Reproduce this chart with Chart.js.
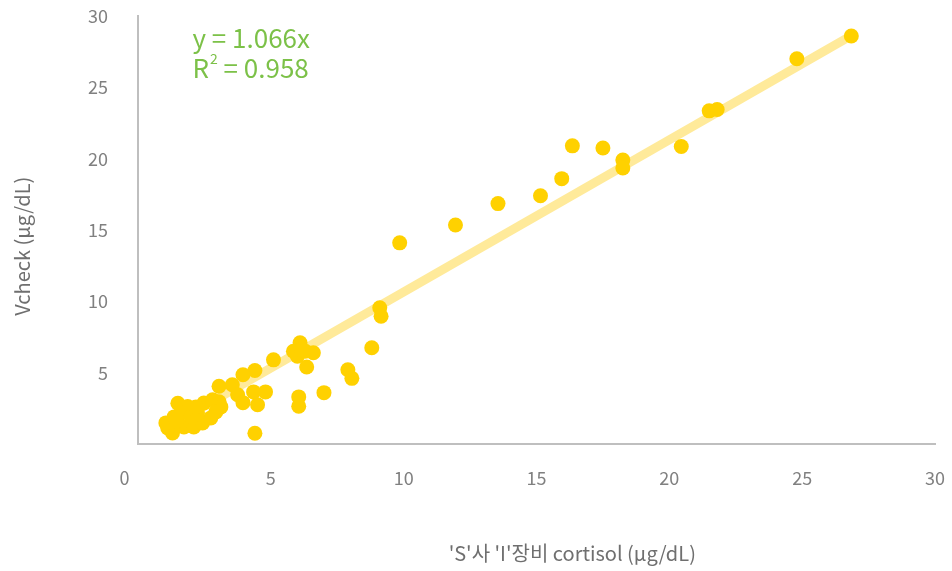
<!DOCTYPE html>
<html>
<head>
<meta charset="utf-8">
<script src="https://cdn.jsdelivr.net/npm/chart.js@4/dist/chart.umd.min.js"></script>
<style>
  html, body { margin: 0; padding: 0; background: #ffffff; }
  #wrap { width: 952px; height: 571px; }
</style>
</head>
<body>
<div id="wrap"><canvas id="c" width="952" height="571"></canvas></div>
<script>
// Paired cortisol readings: reference analyser (x) vs Vcheck (y), µg/dL
const refCortisol = [
  26.85, 24.8, 21.5, 21.8, 20.45, 18.25, 18.25, 17.5, 16.35, 15.95,
  15.15, 13.55, 11.95, 9.85, 9.1, 9.15, 8.8, 7.9, 8.05, 7.0,
  6.05, 6.05, 6.1, 5.85, 6.0, 6.3, 6.6, 6.35, 6.15, 5.1,
  4.4, 3.95, 3.55, 3.05, 3.75, 4.35, 4.8, 3.95, 4.5, 4.4,
  1.5, 1.87, 2.48, 2.81, 3.05, 3.12, 2.93, 1.3, 1.12, 1.05,
  1.73, 2.1, 2.43, 2.74, 1.36, 1.62, 2.0, 2.24, 2.18, 1.45
];
const vcheckCortisol = [
  28.6, 27.0, 23.35, 23.45, 20.85, 19.9, 19.35, 20.75, 20.9, 18.6,
  17.4, 16.85, 15.35, 14.1, 9.55, 8.95, 6.75, 5.2, 4.6, 3.6,
  3.3, 2.65, 7.1, 6.5, 6.15, 6.5, 6.4, 5.4, 6.6, 5.9,
  5.15, 4.85, 4.15, 4.05, 3.45, 3.65, 3.65, 2.9, 2.75, 0.75,
  2.86, 2.63, 2.87, 3.1, 2.96, 2.6, 2.25, 0.77, 1.13, 1.48,
  1.2, 1.2, 1.48, 1.83, 1.9, 2.18, 1.9, 2.18, 2.6, 1.6
];

// Linear fit through the origin and its fit quality
const fitSlope = 1.066;
const fitR2 = 0.958;
const axisTicks = [0, 5, 10, 15, 20, 25, 30];

const xTitle = "'S'사 'I'장비 cortisol (μg/dL)";
const yTitle = "Vcheck (μg/dL)";

const FONT = "'Noto Sans CJK KR', 'Noto Sans', sans-serif";

const points = refCortisol.map((x, i) => ({ x: x, y: vcheckCortisol[i] }));
const xMin = Math.min(...refCortisol);
const xMax = Math.max(...refCortisol);
const fitLine = [
  { x: xMin, y: fitSlope * xMin },
  { x: xMax, y: fitSlope * xMax }
];

// Equation label and both axis titles
const annotations = {
  id: 'annotations',
  afterDraw(chart) {
    const { ctx, chartArea, scales } = chart;
    ctx.save();
    ctx.fillStyle = '#7cc148';
    ctx.textBaseline = 'middle';
    ctx.textAlign = 'left';
    ctx.font = '400 26px ' + FONT;
    const ex = scales.x.getPixelForValue(2.05);
    const ey1 = scales.y.getPixelForValue(28.45);
    const ey2 = scales.y.getPixelForValue(26.35);
    ctx.fillText('y = ' + fitSlope.toFixed(3) + 'x', ex, ey1);
    ctx.fillText('R', ex, ey2);
    const rw = ctx.measureText('R').width;
    ctx.font = '400 14px ' + FONT;
    ctx.fillText('2', ex + rw + 1, ey2 - 9);
    const sw = ctx.measureText('2').width;
    ctx.font = '400 26px ' + FONT;
    ctx.fillText(' = ' + fitR2.toFixed(3), ex + rw + sw + 1, ey2);

    ctx.fillStyle = '#6f6f6f';
    ctx.textAlign = 'center';
    ctx.font = '400 20px ' + FONT;
    const tx = chartArea.left + (chartArea.right - chartArea.left) * 0.545;
    ctx.fillText(xTitle, tx, chart.height - 18);

    const ty = chartArea.top + (chartArea.bottom - chartArea.top) * 0.538;
    ctx.translate(22, ty);
    ctx.rotate(-Math.PI / 2);
    ctx.fillText(yTitle, 0, 0);
    ctx.restore();
  }
};

new Chart(document.getElementById('c'), {
  type: 'scatter',
  data: {
    datasets: [
      {
        type: 'line',
        data: fitLine,
        borderColor: '#ffea9a',
        borderWidth: 9,
        pointRadius: 0,
        borderCapStyle: 'butt',
        fill: false,
        order: 2
      },
      {
        data: points,
        backgroundColor: '#ffd100',
        borderColor: '#ffd100',
        borderWidth: 0,
        pointRadius: 7.5,
        order: 1
      }
    ]
  },
  options: {
    responsive: false,
    animation: false,
    devicePixelRatio: 1,
    layout: { padding: { top: 16, right: 17, left: 0, bottom: 0 } },
    plugins: { legend: { display: false }, tooltip: { enabled: false } },
    scales: {
      x: {
        type: 'linear',
        min: axisTicks[0],
        max: axisTicks[axisTicks.length - 1],
        afterBuildTicks: (s) => { s.ticks = axisTicks.map(v => ({ value: v })); },
        afterFit: (s) => { s.height = 127; s.paddingLeft = 0; s.paddingRight = 0; },
        grid: { display: false, drawTicks: false },
        border: { display: true, color: '#bfbfbf', width: 2 },
        ticks: {
          color: '#808080', font: { family: FONT, size: 18 }, padding: 23, maxRotation: 0,
          // the origin label sits a little left of the vertical axis
          callback: (v) => (v === 0 ? '0\u2003\u2002' : v)
        },
        title: { display: false }
      },
      y: {
        type: 'linear',
        min: axisTicks[0],
        max: axisTicks[axisTicks.length - 1],
        afterBuildTicks: (s) => { s.ticks = axisTicks.map(v => ({ value: v })); },
        afterFit: (s) => { s.width = 138; s.paddingTop = 0; s.paddingBottom = 0; },
        grid: { display: false, drawTicks: false },
        border: { display: true, color: '#bfbfbf', width: 2 },
        ticks: {
          color: '#808080', font: { family: FONT, size: 18 }, padding: 30,
          callback: (v) => (v === 0 ? '' : v)
        },
        title: { display: false }
      }
    }
  },
  plugins: [annotations]
});
</script>
</body>
</html>
